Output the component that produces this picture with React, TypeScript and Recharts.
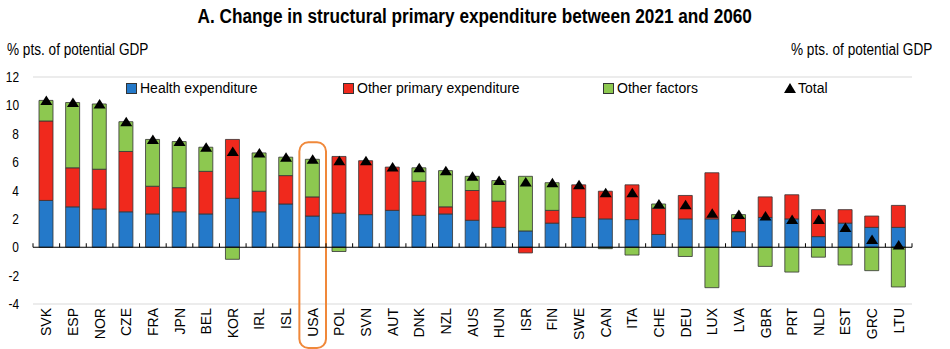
import React from "react";
import {
  ComposedChart,
  Bar,
  Scatter,
  XAxis,
  YAxis,
  CartesianGrid,
  ReferenceLine,
  ReferenceArea,
  Legend,
} from "recharts";

const countries = [
  "SVK", "ESP", "NOR", "CZE", "FRA", "JPN", "BEL", "KOR", "IRL", "ISL", "USA",
  "POL", "SVN", "AUT", "DNK", "NZL", "AUS", "HUN", "ISR", "FIN", "SWE", "CAN",
  "ITA", "CHE", "DEU", "LUX", "LVA", "GBR", "PRT", "NLD", "EST", "GRC", "LTU",
];
const health = [
  3.3, 2.85, 2.7, 2.5, 2.35, 2.5, 2.35, 3.45, 2.5, 3.05, 2.2,
  2.4, 2.3, 2.6, 2.25, 2.35, 1.9, 1.4, 1.15, 1.7, 2.1, 2.0,
  1.95, 0.9, 2.0, 2.0, 1.1, 2.1, 2.0, 0.75, 1.7, 1.4, 1.4,
];
const otherPrimary = [
  5.6, 2.75, 2.8, 4.25, 1.95, 1.7, 3.0, 4.15, 1.45, 2.0, 1.35,
  4.0, 3.8, 3.05, 2.4, 0.5, 2.1, 1.85, -0.4, 0.9, 2.3, 1.95,
  2.45, 1.85, 1.65, 3.25, 0.95, 1.45, 1.7, 1.9, 0.95, 0.8, 1.55,
];
const otherFactors = [
  1.45, 4.6, 4.6, 2.1, 3.3, 3.25, 1.7, -0.85, 2.7, 1.3, 2.65,
  -0.3, 0, 0, 0.95, 2.55, 1.0, 1.45, 3.85, 1.95, 0, -0.1,
  -0.55, 0.3, -0.65, -2.85, 0.25, -1.35, -1.75, -0.7, -1.25, -1.65, -2.8,
];
const total = [
  10.35, 10.2, 10.1, 8.85, 7.6, 7.45, 7.05, 6.75, 6.65, 6.35, 6.2,
  6.1, 6.1, 5.65, 5.6, 5.4, 5.0, 4.7, 4.6, 4.55, 4.4, 3.85,
  3.85, 3.05, 3.0, 2.4, 2.3, 2.2, 1.95, 1.95, 1.4, 0.55, 0.15,
];
const yTicks = [-4, -2, 0, 2, 4, 6, 8, 10, 12];

const data = countries.map((name, i) => ({
  name,
  health: health[i],
  other: otherPrimary[i],
  factors: otherFactors[i],
  total: total[i],
}));

const FONT = '"Liberation Sans", Arial, sans-serif';
const BLUE = "#2479c9";
const RED = "#f0291d";
const GREEN = "#8dc850";
const SQUEEZE = 0.85; // reference text is horizontally condensed

// zero line with small upward ticks at category boundaries
const ZeroLine = (p: any) => {
  const n = countries.length;
  const step = (p.x2 - p.x1) / n;
  const marks = [];
  for (let i = 0; i <= n; i++) {
    const x = p.x1 + i * step;
    marks.push(<line key={i} x1={x} x2={x} y1={p.y1} y2={p.y1 - 4} stroke="#000" strokeWidth={1} />);
  }
  return (
    <g>
      <line x1={p.x1} x2={p.x2} y1={p.y1} y2={p.y2} stroke="#000" strokeWidth={1} />
      {marks}
    </g>
  );
};

const Triangle = (p: any) => {
  const { cx, cy } = p;
  return <path d={`M${cx - 6},${cy + 4.5} L${cx + 6},${cy + 4.5} L${cx},${cy - 5} Z`} fill="#000" />;
};

const CountryTick = ({ x, y, payload }: any) => (
  <g transform={`translate(${x},${y})`}>
    <text transform="rotate(-90)" textAnchor="end" dy="0.36em" fill="#000" fontSize={14} fontFamily={FONT}>
      {payload.value}
    </text>
  </g>
);

const LeftTick = ({ x, y, payload }: any) => (
  <g transform={`translate(${x},${y}) scale(${SQUEEZE},1)`}>
    <text textAnchor="end" dy="0.36em" fill="#000" fontSize={14} fontFamily={FONT}>
      {payload.value}
    </text>
  </g>
);

const RightTick = ({ x, y, payload }: any) => (
  <g transform={`translate(${x},${y}) scale(${SQUEEZE},1)`}>
    <text textAnchor="start" dy="0.36em" fill="#000" fontSize={14} fontFamily={FONT}>
      {payload.value}
    </text>
  </g>
);

const legendLeft = [126, 343, 603, 784];

const LegendContent = () => {
  const items = [
    { label: "Health expenditure", color: BLUE, tri: false },
    { label: "Other primary expenditure", color: RED, tri: false },
    { label: "Other factors", color: GREEN, tri: false },
    { label: "Total", color: "#000", tri: true },
  ];
  return (
    <div style={{ position: "relative", width: 950, height: 20, fontFamily: FONT, fontSize: 14, color: "#000" }}>
      {items.map((it, i) => (
        <div key={it.label} style={{ position: "absolute", left: legendLeft[i], top: 0, display: "flex", alignItems: "center", whiteSpace: "nowrap" }}>
          {it.tri ? (
            <svg width={12} height={10} style={{ marginRight: 2 }}>
              <path d="M0,10 L12,10 L6,0 Z" fill="#000" />
            </svg>
          ) : (
            <span style={{ display: "inline-block", width: 9, height: 9, background: it.color, border: "1px solid #333", marginRight: 3 }} />
          )}
          <span>{it.label}</span>
        </div>
      ))}
    </div>
  );
};

const OrangeBox = (p: any) => (
  <rect x={p.x} y={p.y} width={p.width} height={p.height + 44} rx={9} ry={9} fill="none" stroke="#f0883a" strokeWidth={2} />
);

export default function App() {
  return (
    <div style={{ position: "absolute", left: 0, top: 0, width: 950, height: 349, background: "#fff", fontFamily: FONT }}>
      <div style={{ position: "absolute", top: 5, left: 0, width: 950, textAlign: "center", fontWeight: "bold", fontSize: 20, transform: "scaleX(0.86)", transformOrigin: "473px 0" }}>
        A. Change in structural primary expenditure between 2021 and 2060
      </div>
      <div style={{ position: "absolute", top: 41, left: 7, fontSize: 16, transform: `scaleX(${SQUEEZE})`, transformOrigin: "left top", whiteSpace: "nowrap" }}>
        % pts. of potential GDP
      </div>
      <div style={{ position: "absolute", top: 41, right: 18, fontSize: 16, transform: `scaleX(${SQUEEZE})`, transformOrigin: "right top", whiteSpace: "nowrap" }}>
        % pts. of potential GDP
      </div>
      <div style={{ position: "absolute", top: 0, left: 0 }}>
        <ComposedChart
          width={950}
          height={349}
          data={data}
          stackOffset="sign"
          margin={{ top: 77, right: 0, bottom: 0, left: 0 }}
        >
          <CartesianGrid vertical={false} stroke="#d9d9d9" />
          <XAxis
            dataKey="name"
            height={45}
            axisLine={false}
            tickLine={false}
            tickSize={0}
            tickMargin={4}
            interval={0}
            tick={<CountryTick />}
          />
          <YAxis
            yAxisId="left"
            width={33}
            domain={[-4, 12]}
            ticks={yTicks}
            axisLine={false}
            tickLine={false}
            tickMargin={8}
            tick={<LeftTick />}
          />
          <YAxis
            yAxisId="right"
            orientation="right"
            width={38}
            domain={[-4, 12]}
            ticks={yTicks}
            axisLine={false}
            tickLine={false}
            tickMargin={5}
            tick={<RightTick />}
          />
          <Legend
            layout="vertical"
            align="center"
            verticalAlign="middle"
            wrapperStyle={{ top: 80, left: 0, width: 950 }}
            content={<LegendContent />}
          />
          <Bar yAxisId="left" dataKey="health" name="Health expenditure" stackId="a" fill={BLUE} stroke="#333" strokeWidth={0.8} barSize={14} isAnimationActive={false} />
          <Bar yAxisId="left" dataKey="other" name="Other primary expenditure" stackId="a" fill={RED} stroke="#333" strokeWidth={0.8} barSize={14} isAnimationActive={false} />
          <Bar yAxisId="left" dataKey="factors" name="Other factors" stackId="a" fill={GREEN} stroke="#333" strokeWidth={0.8} barSize={14} isAnimationActive={false} />
          <ReferenceLine yAxisId="left" y={0} shape={<ZeroLine />} />
          <ReferenceArea yAxisId="left" x1="USA" x2="USA" y1={-4} y2={7.4} ifOverflow="visible" shape={<OrangeBox />} />
          <Scatter yAxisId="left" dataKey="total" name="Total" shape={<Triangle />} isAnimationActive={false} />
        </ComposedChart>
      </div>
    </div>
  );
}
